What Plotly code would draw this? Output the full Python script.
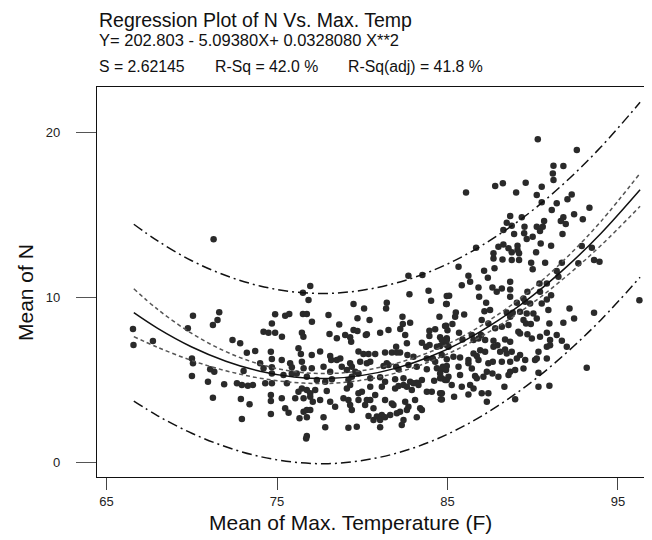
import plotly.graph_objects as go

# ---- scatter data (Mean of Max. Temperature, Mean of N) ----
pts = [
 (71.28,13.52),
 (66.55,8.08),(66.58,7.11),(67.72,7.35),(70.07,8.89),(71.61,9.09),(71.51,8.62),(71.24,8.32),(69.77,8.12),
 (72.39,7.41),(72.84,7.21),(73.23,6.64),(73.72,6.75),(70.01,6.30),(70.07,6.00),(71.08,5.64),(71.32,5.49),
 (70.01,5.23),(70.95,4.88),(71.90,4.73),(72.65,4.79),(72.94,4.68),(73.29,4.64),(73.59,4.68),(73.04,5.53),
 (71.24,3.92),(72.88,3.84),(73.39,3.52),(72.94,2.62),(74.21,7.92),(74.50,7.85),(74.70,8.42),(74.89,8.97),
 (74.64,6.70),(74.70,6.26),(74.01,6.00),(74.21,5.70),(74.70,5.76),(74.31,4.79),(74.70,4.79),(74.64,4.08),
 (74.64,3.72),(74.64,2.93),
 (76.95,10.68),(76.52,10.28),(76.85,9.84),(82.71,11.31),(83.53,11.35),(82.77,10.18),(83.89,10.40),(84.04,9.79),
 (84.96,10.08),(84.92,9.59),(81.44,9.67),(81.40,9.33),(79.49,9.59),(80.11,9.33),(75.48,8.89),(75.72,8.99),
 (76.52,8.99),(76.75,8.99),(78.02,8.93),(79.72,8.73),(80.43,8.62),(77.05,8.52),(82.36,8.82),(82.81,8.46),
 (82.38,8.38),(84.53,8.82),(84.92,8.28),(81.54,8.02),(82.23,8.08),(78.65,8.36),(79.49,8.02),(79.72,7.96),
 (81.05,7.85),(80.27,7.76),(78.08,7.78),(74.89,7.85),(76.46,7.85),(75.29,7.61),(76.55,7.61),(79.00,7.72),
 (79.29,7.58),(82.52,7.72),(83.94,7.98),(84.28,8.06),(83.94,7.65),(84.57,7.58),(84.96,7.52),(78.51,7.52),
 (80.21,7.72),
 (79.35,7.31),(82.62,7.21),(83.50,7.25),(84.96,7.11),(76.26,6.91),(77.53,6.71),(77.04,6.50),(78.12,6.44),
 (79.78,6.71),(80.07,6.57),(80.37,6.57),(80.76,6.57),(81.34,6.65),(81.74,6.65),(82.03,6.65),(82.22,6.65),
 (81.99,7.01),(82.65,6.50),(83.75,7.01),(83.95,7.11),(84.38,7.01),(84.57,7.05),(84.77,7.21),(85.06,7.01),
 (75.28,6.20),(76.40,6.57),(76.46,6.10),(78.18,6.20),(78.51,6.20),(78.71,6.30),(79.29,6.00),(79.88,6.10),
 (80.27,6.00),(80.47,6.10),(81.44,6.00),(83.01,6.40),(83.79,6.30),(84.14,6.30),(84.28,6.10),(75.77,6.00),
 (75.87,5.76),(76.56,5.70),(77.04,5.70),(77.73,5.80),(78.12,5.49),(78.80,5.80),(79.10,5.59),(79.39,5.80),
 (79.59,5.49),(79.78,5.39),(81.25,5.84),(81.54,5.90),(81.99,5.80),(82.13,5.64),(82.71,5.90),(83.20,5.80),
 (83.79,5.64),(84.38,5.70),(84.67,5.64),(84.96,5.84),(74.70,5.39),(75.38,5.29),(75.87,5.39),(76.16,5.39),
 (76.75,5.19),(77.34,4.99),(77.83,4.89),(78.22,5.03),(79.19,4.99),(79.39,5.19),(80.47,5.09),(81.05,5.15),
 (81.93,5.03),(82.42,5.09),(82.81,4.89),(83.20,4.83),(83.50,4.99),(84.22,4.95),(84.57,5.09),(84.86,4.99),
 (85.06,5.19),(84.57,5.39),(75.58,4.79),(76.46,4.48),(76.26,4.28),(76.75,4.38),(76.95,4.18),(77.24,4.38),
 (77.92,4.32),(79.10,4.48),(79.29,4.69),(79.78,4.18),(79.98,4.28),(80.47,4.58),(80.76,4.08),(81.15,4.58),
 (81.34,4.89),(81.93,4.48),(82.13,4.63),(82.42,4.69),(82.62,4.58),(82.91,4.38),(83.01,4.79),(83.30,4.69),
 (83.79,4.28),(84.08,4.28),(84.57,4.18),(84.61,3.82),(75.28,3.88),(76.07,3.88),(76.56,3.88),(76.95,3.98),
 (77.10,3.67),(77.53,3.78),(78.12,3.67),(78.41,3.37),(78.90,3.88),(79.19,3.78),(79.29,3.47),(79.39,3.17),
 (79.78,3.78),(80.17,3.47),(80.27,3.78),(80.47,3.78),(80.66,3.27),(81.34,3.78),(81.74,3.57),(81.83,3.47),
 (82.52,3.67),(83.10,3.78),(82.71,3.37),(83.40,3.27),(82.22,3.07),(82.03,2.97),(81.64,2.87),(82.62,3.17),
 (75.48,3.27),(75.68,3.01),(76.56,3.07),(76.75,3.17),(76.95,3.17),(76.32,2.67),(76.75,2.73),(77.73,2.73),
 (77.83,2.12),(79.19,2.10),(79.68,2.16),(80.37,2.81),(80.66,2.57),(80.86,2.77),(81.15,2.87),(81.05,2.57),
 (81.34,2.73),(81.05,2.12),(82.42,2.57),(82.32,2.26),(83.20,2.73),(83.50,3.17),(76.75,1.59),(76.71,1.45),
 (90.30,19.59),(92.59,18.93),(86.09,16.36),(87.80,16.75),(88.25,16.91),(89.03,16.36),(89.59,16.95),(90.53,16.71),
 (90.24,16.20),(91.22,17.98),(91.80,17.96),(91.18,17.51),(91.22,17.11),(92.29,16.24),(92.04,15.94),(91.41,15.70),
 (90.53,15.76),(91.12,15.29),(93.33,15.43),(92.43,15.03),(92.94,14.73),(91.80,14.85),(91.65,14.62),(91.94,14.44),
 (90.67,14.62),(90.24,14.28),(90.43,14.02),(90.59,14.28),(88.68,14.93),(89.36,14.85),(88.48,14.52),(88.77,14.34),
 (88.28,14.08),(89.52,14.28),(88.91,13.84),(89.50,13.88),(89.65,13.53),(90.00,13.67),(91.75,13.84),(90.47,13.27),
 (91.08,13.13),(88.28,13.21),(87.99,13.07),(88.58,12.97),(89.11,13.13),(89.11,12.87),(88.77,12.73),(89.20,12.67),
 (87.70,12.67),(87.70,12.36),(88.23,12.30),(88.77,12.26),(89.20,12.26),(90.20,12.73),(89.91,12.10),(90.73,12.10),
 (90.00,11.70),(91.71,12.10),(86.68,13.01),(85.65,11.86),(87.15,11.61),(87.76,11.76),(86.23,11.31),(87.37,11.19),
 (92.88,13.11),(93.47,13.01),(93.60,12.26),(93.92,12.16),(92.68,12.06),(91.41,11.59),(91.51,11.25),
 (86.33,10.94),(85.84,10.74),(86.82,10.60),(87.64,10.60),(87.89,10.34),(88.19,10.54),(88.68,10.94),(88.68,10.48),
 (88.68,10.03),(85.10,10.09),(86.86,10.03),(89.46,9.93),(89.69,10.34),(90.40,10.84),(90.83,10.84),(90.43,10.34),
 (91.08,10.13),(90.83,9.87),(90.53,9.63),(89.07,9.67),(89.56,9.73),(89.85,9.63),(84.96,9.59),(85.49,9.08),
 (85.98,8.96),(85.45,8.82),(87.27,9.67),(87.17,9.16),(87.50,9.23),(88.48,9.08),(88.68,8.82),(88.83,9.06),
 (89.26,9.12),(89.65,9.02),(90.04,9.02),(89.46,8.62),(89.61,8.42),(89.89,8.38),(90.24,8.72),(90.92,9.23),
 (90.98,8.42),(92.16,9.33),(92.43,8.72),(91.80,8.46),(93.60,9.06),(87.01,8.62),(87.40,8.42),(87.80,8.12),
 (88.19,8.22),(88.58,8.32),(84.86,8.26),(85.29,8.38),(85.00,8.01),(85.68,7.85),(85.88,7.45),(84.96,7.41),
 (84.67,7.41),(86.43,7.71),(86.97,7.71),(86.53,7.41),(86.82,7.51),(87.21,7.41),(87.70,7.37),(88.38,7.45),
 (88.68,7.31),(89.16,7.91),(89.26,7.81),(89.69,7.77),(89.95,7.51),(90.43,7.61),(90.83,7.85),(91.02,7.41),
 (91.41,7.71),(91.71,7.37),(92.00,7.00),(90.83,7.00),(91.02,7.10),(90.34,6.70),(90.24,6.30),(90.83,6.30),
 (90.14,6.20),(89.56,6.20),(89.26,6.50),(88.77,6.70),(89.07,6.30),(88.48,6.60),(88.68,6.10),(88.19,6.10),
 (87.93,7.10),(87.70,7.00),(88.09,6.70),(88.38,6.84),(86.92,6.80),(87.21,6.70),(86.53,6.60),(86.72,6.44),
 (86.23,6.20),(86.23,6.00),(86.82,6.20),(87.40,6.00),(87.66,6.10),(85.74,6.36),(85.35,6.40),(84.96,6.24),
 (84.67,6.50),(84.73,5.79),(84.92,5.59),(85.65,5.79),(85.74,5.29),(86.43,5.69),(86.62,5.23),(87.11,5.19),
 (86.72,5.09),(87.31,5.49),(87.64,5.39),(87.99,5.19),(88.58,5.29),(88.68,5.49),(88.97,5.59),(89.46,5.69),
 (90.34,5.43),(84.67,5.09),(84.96,4.99),(85.25,4.68),(85.84,4.58),(86.33,4.68),(86.53,4.48),(84.67,4.18),
 (84.67,3.81),(85.39,3.97),(86.23,4.11),(87.01,4.18),(87.40,4.18),(87.31,3.67),(88.34,4.58),(88.97,3.83),
 (90.34,4.58),(90.98,4.64),(93.17,5.73),(96.26,9.83),
]
temp = [p[0] for p in pts]
mean_n = [p[1] for p in pts]

# ---- regression curves read at sample temperatures ----
curve_x = [66.6, 68, 70, 72, 74, 76, 78, 80, 82, 84, 86, 88, 90, 92, 94, 96.3]
fit     = [9.07, 8.12, 6.99, 6.13, 5.52, 5.17, 5.08, 5.27, 5.71, 6.41, 7.38, 8.62, 10.10, 11.86, 13.87, 16.52]
ci_up   = [10.52, 9.27, 7.81, 6.71, 5.94, 5.50, 5.38, 5.56, 6.00, 6.70, 7.69, 8.98, 10.54, 12.42, 14.60, 17.52]
ci_lo   = [7.62, 6.97, 6.17, 5.55, 5.10, 4.84, 4.78, 4.98, 5.42, 6.12, 7.07, 8.26, 9.66, 11.30, 13.14, 15.52]
pi_up   = [14.43, 13.42, 12.22, 11.32, 10.69, 10.33, 10.24, 10.43, 10.87, 11.57, 12.54, 13.79, 15.28, 17.06, 19.11, 21.82]
pi_lo   = [3.71, 2.82, 1.76, 0.94, 0.35, 0.01, -0.08, 0.11, 0.55, 1.25, 2.22, 3.45, 4.92, 6.66, 8.63, 11.22]

x_ticks = [65, 75, 85, 95]
y_ticks = [0, 10, 20]

FONT = "Liberation Sans, Arial, sans-serif"

fig = go.Figure()
fig.add_trace(go.Scatter(x=temp, y=mean_n, mode="markers",
                         marker=dict(size=6.5, color="#2a2a2a", line=dict(width=0)),
                         showlegend=False, hoverinfo="skip"))
for ys, dash, col in [(pi_up, "10px,4px,2px,4px", "#111111"), (pi_lo, "10px,4px,2px,4px", "#111111"),
                      (ci_up, "4px,3px", "#555555"), (ci_lo, "4px,3px", "#555555"),
                      (fit, "solid", "#111111")]:
    fig.add_trace(go.Scatter(x=curve_x, y=ys, mode="lines",
                             line=dict(color=col, width=1.5, dash=dash, shape="spline", smoothing=1.0),
                             showlegend=False, hoverinfo="skip"))

# page body has an 8px default margin: figure is 644x532 so that plot sits at 97..652 x 87..477
fig.update_layout(
    width=644, height=532,
    margin=dict(l=89, r=0, t=79, b=63),
    paper_bgcolor="white", plot_bgcolor="white",
    font=dict(family=FONT, color="#222222"),
    xaxis=dict(range=[64.44, 97.0], tickvals=x_ticks, ticks="outside", ticklen=12, tickwidth=1.3,
               tickcolor="#444444", showline=True, linecolor="#111111", linewidth=1.3, mirror=True,
               showgrid=False, zeroline=False, tickfont=dict(size=13, family=FONT, color="#222222")),
    yaxis=dict(range=[-0.89, 22.75], tickvals=y_ticks, ticks="outside", ticklen=20, tickwidth=1.3,
               tickcolor="#555555", showline=True, linecolor="#111111", linewidth=1.3,
               showgrid=False, zeroline=False, ticklabelstandoff=13,
               tickfont=dict(size=13, family=FONT, color="#222222")),
)

def ann(text, x, y, size, xanchor="left"):
    fig.add_annotation(text=text, x=x, y=y, xref="paper", yref="paper", showarrow=False,
                       xanchor=xanchor, yanchor="middle", font=dict(size=size, family=FONT, color="#111111"))

PW, PH = 555.0, 390.0
ann("Regression Plot of N Vs. Max. Temp", 0.0, (477 - 20) / PH, 19.5)
ann("Y= 202.803 - 5.09380X+ 0.0328080 X**2", 0.0, (477 - 40) / PH, 16.5)
ann("S = 2.62145", 0.0, (477 - 66.5) / PH, 15.8)
ann("R-Sq = 42.0 %", (213 - 97) / PW, (477 - 66.5) / PH, 15.8)
ann("R-Sq(adj) = 41.8 %", (346 - 97) / PW, (477 - 66.5) / PH, 15.8)
ann("Mean of Max. Temperature (F)", (350 - 97) / PW, (477 - 522) / PH, 21, xanchor="center")
fig.add_annotation(text="Mean of N", x=(25 - 97) / PW, y=(477 - 293) / PH, xref="paper", yref="paper",
                   showarrow=False, textangle=-90, xanchor="center", yanchor="middle",
                   font=dict(size=21, family=FONT, color="#111111"))

fig.write_html("out.html")
